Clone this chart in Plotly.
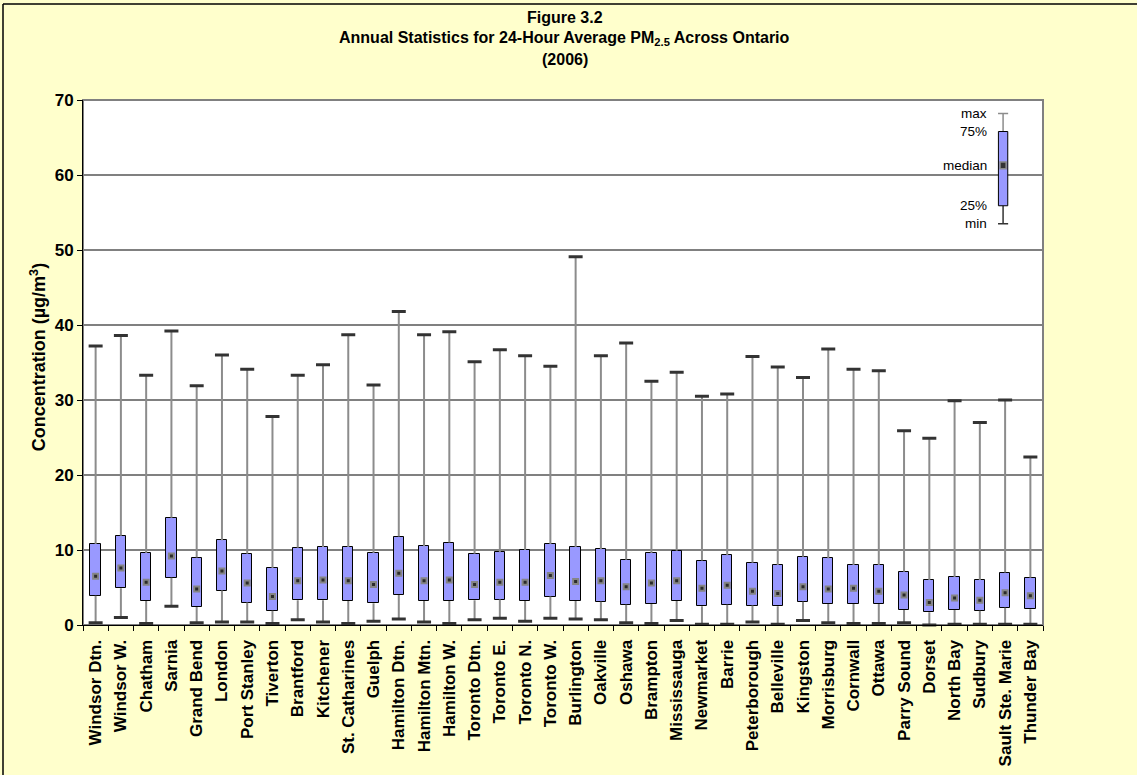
import plotly.graph_objects as go

# Monitoring stations (left to right)
stations = [
    "Windsor Dtn.", "Windsor W.", "Chatham", "Sarnia", "Grand Bend", "London",
    "Port Stanley", "Tiverton", "Brantford", "Kitchener", "St. Catharines",
    "Guelph", "Hamilton Dtn.", "Hamilton Mtn.", "Hamilton W.", "Toronto Dtn.",
    "Toronto E.", "Toronto N.", "Toronto W.", "Burlington", "Oakville",
    "Oshawa", "Brampton", "Mississauga", "Newmarket", "Barrie", "Peterborough",
    "Belleville", "Kingston", "Morrisburg", "Cornwall", "Ottawa", "Parry Sound",
    "Dorset", "North Bay", "Sudbury", "Sault Ste. Marie", "Thunder Bay",
]

# Annual statistics of 24-hour average PM2.5 (ug/m3)
pm_min = [0.3, 1.0, 0.2, 2.5, 0.3, 0.4, 0.4, 0.2, 0.7, 0.4, 0.2, 0.5,
          0.8, 0.4, 0.2, 0.7, 0.9, 0.5, 0.9, 0.8, 0.7, 0.3, 0.2, 0.6,
          0.1, 0.1, 0.4, 0.1, 0.6, 0.3, 0.2, 0.2, 0.3, 0.0, 0.1, 0.1,
          0.1, 0.1]
pm_q1 = [3.9, 4.9, 3.2, 6.3, 2.4, 4.6, 3.0, 1.9, 3.3, 3.3, 3.2, 2.9,
         4.0, 3.2, 3.2, 3.3, 3.4, 3.2, 3.8, 3.2, 3.1, 2.7, 2.8, 3.2,
         2.5, 2.7, 2.6, 2.5, 3.1, 2.8, 2.8, 2.8, 2.0, 1.7, 2.0, 1.9,
         2.3, 2.1]
pm_median = [6.5, 7.6, 5.7, 9.2, 4.8, 7.2, 5.6, 3.8, 5.9, 6.0, 5.9, 5.4,
             6.9, 5.9, 6.0, 5.4, 5.7, 5.7, 6.6, 5.8, 5.9, 5.1, 5.6, 5.9,
             4.9, 5.3, 4.5, 4.2, 5.1, 4.8, 4.9, 4.5, 4.0, 3.0, 3.6, 3.3,
             4.3, 3.9]
pm_q3 = [10.8, 11.9, 9.6, 14.3, 9.0, 11.3, 9.5, 7.6, 10.3, 10.4, 10.4, 9.6,
         11.8, 10.5, 11.0, 9.5, 9.7, 10.0, 10.8, 10.4, 10.1, 8.7, 9.6, 9.9,
         8.6, 9.3, 8.3, 8.0, 9.1, 8.9, 8.0, 8.0, 7.1, 6.0, 6.4, 6.0,
         7.0, 6.3]
pm_max = [37.2, 38.6, 33.3, 39.2, 31.9, 36.0, 34.1, 27.8, 33.3, 34.7, 38.7, 32.0,
          41.8, 38.7, 39.1, 35.1, 36.7, 35.9, 34.5, 49.1, 35.9, 37.6, 32.5, 33.7,
          30.5, 30.8, 35.8, 34.4, 33.0, 36.8, 34.1, 33.9, 25.9, 24.9, 29.9, 27.0,
          30.0, 22.4]

# Explanatory key drawn in the upper-right corner
key_names = ["min", "25%", "median", "75%", "max"]
key_values = [53.5, 55.9, 61.3, 65.8, 68.2]
key_station = 36  # category slot the key sits above

FONT = "Liberation Sans, Arial, sans-serif"
BOX_FILL = "#9999FF"
WHISKER = "#8c8c8c"
CAP = "#333333"
BOX_W = 0.41

fig = go.Figure()

# whiskers: min -> q1 and q3 -> max, drawn as broken line segments
wx, wy = [], []
for s, lo, q1, q3, hi in zip(stations, pm_min, pm_q1, pm_q3, pm_max):
    wx += [s, s, None, s, s, None]
    wy += [lo, q1, None, q3, hi, None]
fig.add_trace(go.Scatter(x=wx, y=wy, mode="lines", connectgaps=False,
                         line=dict(color=WHISKER, width=2),
                         hoverinfo="skip", showlegend=False))

# interquartile boxes
fig.add_trace(go.Bar(x=stations, y=[b - a for a, b in zip(pm_q1, pm_q3)],
                     base=pm_q1, width=BOX_W,
                     marker=dict(color=BOX_FILL, line=dict(color="black", width=1)),
                     showlegend=False))

# whisker caps at min and max
fig.add_trace(go.Scatter(x=stations + stations, y=pm_min + pm_max, mode="markers",
                         marker=dict(symbol="line-ew", size=10,
                                     line=dict(color=CAP, width=3)),
                         cliponaxis=False, showlegend=False))

# medians
fig.add_trace(go.Scatter(x=stations, y=pm_median, mode="markers",
                         marker=dict(symbol="square", size=5, color="#2b2b2b",
                                     line=dict(color="#858585", width=2)),
                         showlegend=False))

# ---- key (shapes on the category axis, using index positions) ----
kx = key_station - 0.08
kmin, kq1, kmed, kq3, kmax = key_values
shapes = [
    dict(type="line", xref="x", yref="y", x0=kx, x1=kx, y0=kmin, y1=kq1,
         line=dict(color=CAP, width=1.5)),
    dict(type="line", xref="x", yref="y", x0=kx, x1=kx, y0=kq3, y1=kmax,
         line=dict(color=WHISKER, width=1.5)),
    dict(type="rect", xref="x", yref="y", x0=kx - BOX_W / 2 + 0.02,
         x1=kx + BOX_W / 2 - 0.02, y0=kq1, y1=kq3,
         fillcolor=BOX_FILL, line=dict(color="black", width=1)),
    dict(type="line", xref="x", yref="y", x0=kx - 0.2, x1=kx + 0.2, y0=kmin, y1=kmin,
         line=dict(color=CAP, width=1.5)),
    dict(type="line", xref="x", yref="y", x0=kx - 0.2, x1=kx + 0.2, y0=kmax, y1=kmax,
         line=dict(color=WHISKER, width=1.5)),
    dict(type="rect", xref="x", yref="y", x0=kx - 0.12, x1=kx + 0.12,
         y0=kmed - 0.45, y1=kmed + 0.45,
         fillcolor="#333333", line=dict(color="#8a8a8a", width=1.5)),
]
annotations = []
for name, v in zip(key_names, key_values):
    annotations.append(dict(x=kx - 0.55, y=v, xref="x", yref="y", text=name,
                            showarrow=False, xanchor="right", yanchor="middle",
                            font=dict(family=FONT, size=13.5, color="black",
                                      weight="normal")))

# darker reference lines at 10 and 60
for yv in (10, 60):
    shapes.append(dict(type="line", xref="paper", yref="y", x0=0, x1=1, y0=yv, y1=yv,
                       line=dict(color="black", width=1), layer="below"))

# plot-area frame (grey) and outer chart frame
shapes.append(dict(type="rect", xref="paper", yref="paper", x0=0, x1=1, y0=0, y1=1,
                   line=dict(color="#808080", width=2), layer="below"))
shapes.append(dict(type="line", xref="paper", yref="paper",
                   x0=-80 / 960, x1=-80 / 960, y0=-1, y1=621 / 525,
                   line=dict(color="black", width=1.5)))
shapes.append(dict(type="line", xref="paper", yref="paper",
                   x0=-80 / 960, x1=2, y0=621 / 525, y1=621 / 525,
                   line=dict(color="black", width=1.5)))

# titles
title_lines = [
    ("Figure 3.2", 608),
    ("Annual Statistics for 24-Hour Average PM<sub>2.5</sub> Across Ontario", 587),
    ("(2006)", 566),
]
for txt, ypx in title_lines:
    annotations.append(dict(x=0.502, y=ypx / 525, xref="paper", yref="paper",
                            text="<b>" + txt + "</b>", showarrow=False,
                            xanchor="center", yanchor="middle",
                            font=dict(family=FONT, size=16, color="black")))
annotations.append(dict(x=-45 / 960, y=0.51, xref="paper", yref="paper",
                        text="<b>Concentration (µg/m<sup>3</sup>)</b>", textangle=-90,
                        showarrow=False, xanchor="center", yanchor="middle",
                        font=dict(family=FONT, size=18, color="black")))

fig.update_layout(
    width=1137, height=775,
    margin=dict(l=83, r=94, t=100, b=150),
    paper_bgcolor="#FFFFCC", plot_bgcolor="white",
    bargap=0, barmode="overlay",
    font=dict(family=FONT, size=17, color="black", weight="bold"),
    shapes=shapes, annotations=annotations,
    xaxis=dict(type="category", categoryorder="array", categoryarray=stations,
               range=[-0.5, len(stations) - 0.5], automargin=False,
               tickangle=-90, tickson="boundaries", ticks="outside", ticklen=5,
               ticklabelstandoff=7,
               tickcolor="black", showline=True, linecolor="black", linewidth=1,
               showgrid=False, tickfont=dict(family=FONT, size=17, weight="bold")),
    yaxis=dict(range=[0, 70], tickvals=[0, 10, 20, 30, 40, 50, 60, 70],
               automargin=False,
               ticks="outside", ticklen=5, tickcolor="black",
               showline=True, linecolor="black", linewidth=1,
               showgrid=True, gridcolor="#808080", gridwidth=2,
               zeroline=False, tickfont=dict(family=FONT, size=17, weight="bold")),
)

fig.write_html("out.html")
